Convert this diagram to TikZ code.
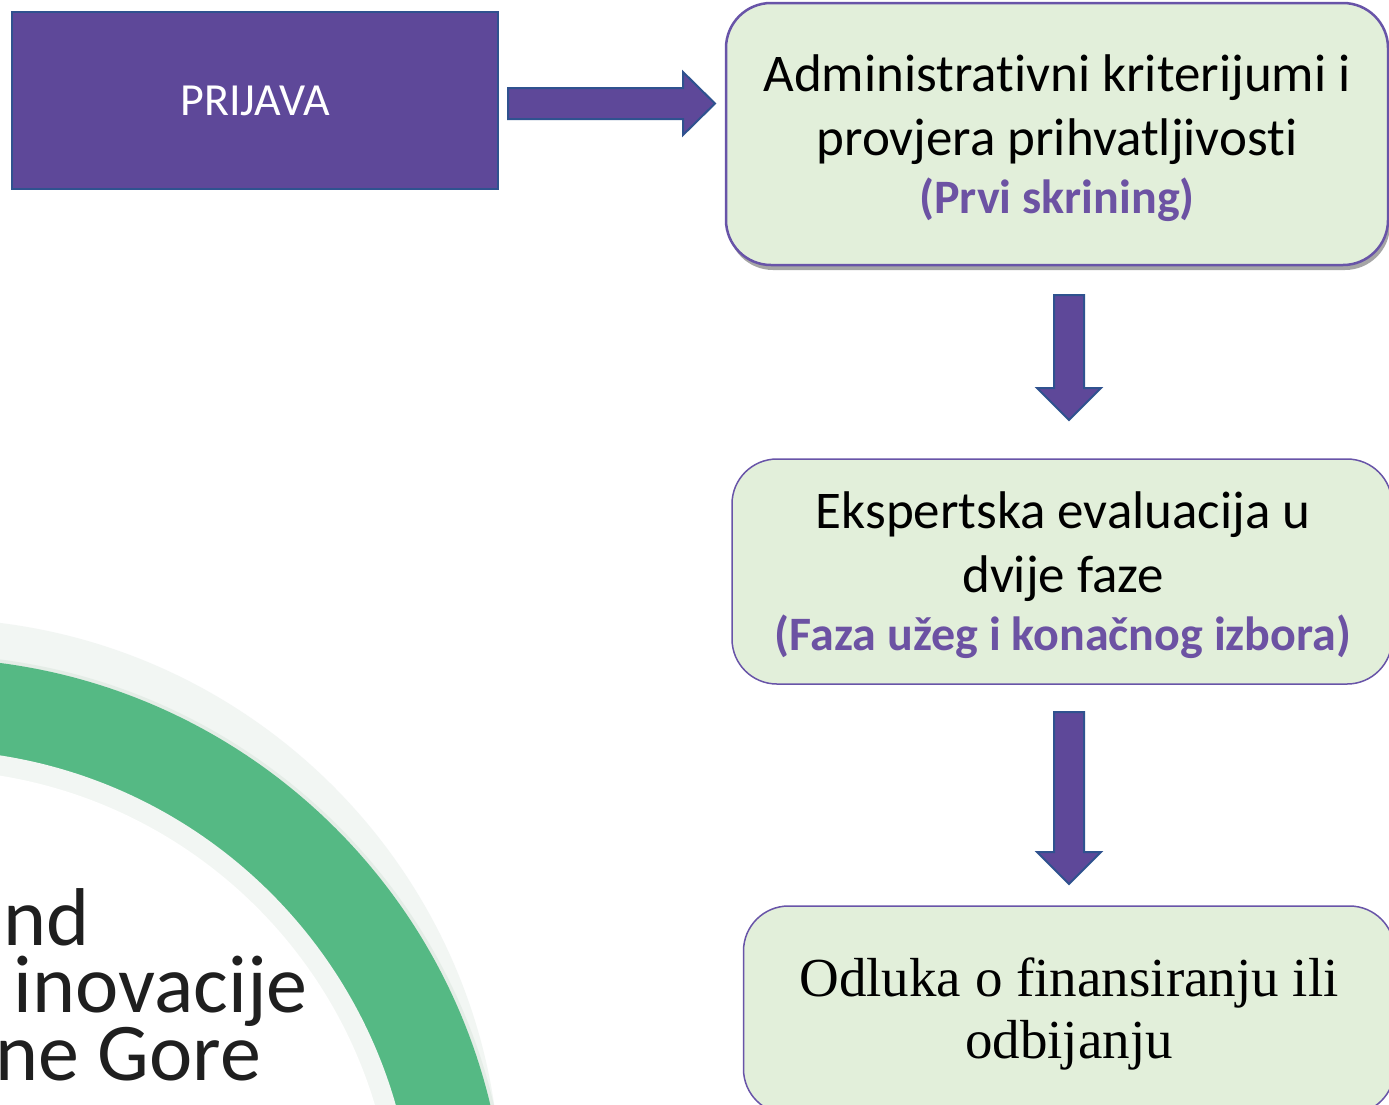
\documentclass[tikz,border=0pt]{standalone}
\usepackage{fontspec}
\setmainfont{Carlito}[Ligatures={NoCommon,NoContextual,NoRare,TeX}]
\newfontfamily\serifcf{Liberation Serif}[Ligatures={NoCommon,TeX}]
\usetikzlibrary{shadows}
\definecolor{pfill}{RGB}{94,72,153}
\definecolor{pborder}{RGB}{47,82,143}
\definecolor{gbox}{RGB}{226,239,218}
\definecolor{gboxline}{RGB}{104,84,168}
\definecolor{ptext}{RGB}{108,82,163}
\definecolor{arcgreen}{RGB}{85,185,132}
\definecolor{halo}{RGB}{242,246,243}
\definecolor{haloedge}{RGB}{229,237,231}
\begin{document}
\begin{tikzpicture}[x=1pt,y=-1pt,
  box/.style={draw=gboxline, fill=gbox, rounded corners=45pt, line width=1.5pt, inner sep=0pt},
  blk/.style={fill=pfill, draw=pborder, line width=2pt, line join=miter},
  regtxt/.style={font=\fontsize{53}{64}\selectfont, anchor=base, inner sep=0pt},
  boldtxt/.style={font=\fontsize{48}{57}\selectfont\bfseries, text=ptext, anchor=base, inner sep=0pt},
  bigtxt/.style={font=\fontsize{82}{67}\selectfont, text=black!88, anchor=base east, inner sep=0pt},
]
\useasboundingbox (0,0) rectangle (1389,1104);
\clip (0,0) rectangle (1389,1104);
\fill[white] (0,0) rectangle (1389,1104);
% decorative arc
\fill[halo] (-71.4,1190.5) circle[radius=572];
\fill[haloedge] (-75.5,1239.6) circle[radius=585];
\fill[arcgreen] (-75.5,1239.6) circle[radius=581.5];
\fill[halo] (-75.5,1239.6) circle[radius=490];
\fill[white] (-75.5,1239.6) circle[radius=470];
\node[bigtxt] (t1) at (90,945) {nd};
\node[bigtxt] (t2) at (308,1012) {inovacije};
\node[bigtxt] (t3) at (261,1080) {ne Gore};
% PRIJAVA
\node[fill=pfill, draw=pborder, line width=2pt, minimum width=486pt, minimum height=177pt, inner sep=0pt,
      text=white, font=\fontsize{46}{55}\selectfont] (prijava) at (255,100.5) {PRIJAVA};
% box 1
\node[box, line width=2.5pt, minimum width=662pt, minimum height=262pt,
      drop shadow={shadow xshift=2pt, shadow yshift=-5pt, opacity=0.5, fill=black!70}] (b1) at (1057,134) {};
\node[regtxt] (b1l1) at (1057,91) {Administrativni kriterijumi i};
\node[regtxt] (b1l2) at (1057,155) {provjera prihvatljivosti};
\node[boldtxt] (b1l3) at (1057,213) {(Prvi skrining)};
% box 2
\node[box, minimum width=660pt, minimum height=225pt] (b2) at (1062,571.5) {};
\node[regtxt] (b2l1) at (1063,528) {Ekspertska evaluacija u};
\node[regtxt] (b2l2) at (1063,592) {dvije faze};
\node[boldtxt] (b2l3) at (1063,650) {(Faza užeg i konačnog izbora)};
% box 3
\node[box, minimum width=651pt, minimum height=208pt] (b3) at (1069,1010) {};
\node[regtxt, font=\serifcf\fontsize{55}{62}\selectfont] (b3l1) at (1069,996) {Odluka o finansiranju ili};
\node[regtxt, font=\serifcf\fontsize{55}{62}\selectfont] (b3l2) at (1069,1058) {odbijanju};
% block arrows between the boxes
\draw[blk] (508,88) -- (683,88) -- (683,72) -- (715,103.5) -- (683,135) -- (683,119) -- (508,119) -- cycle;
\draw[blk] (1054,295) -- (1084,295) -- (1084,388) -- (1101,388) -- (1069,420) -- (1037,388) -- (1054,388) -- cycle;
\draw[blk] (1054,712) -- (1084,712) -- (1084,852) -- (1101,852) -- (1069,884) -- (1037,852) -- (1054,852) -- cycle;
\end{tikzpicture}
\end{document}
